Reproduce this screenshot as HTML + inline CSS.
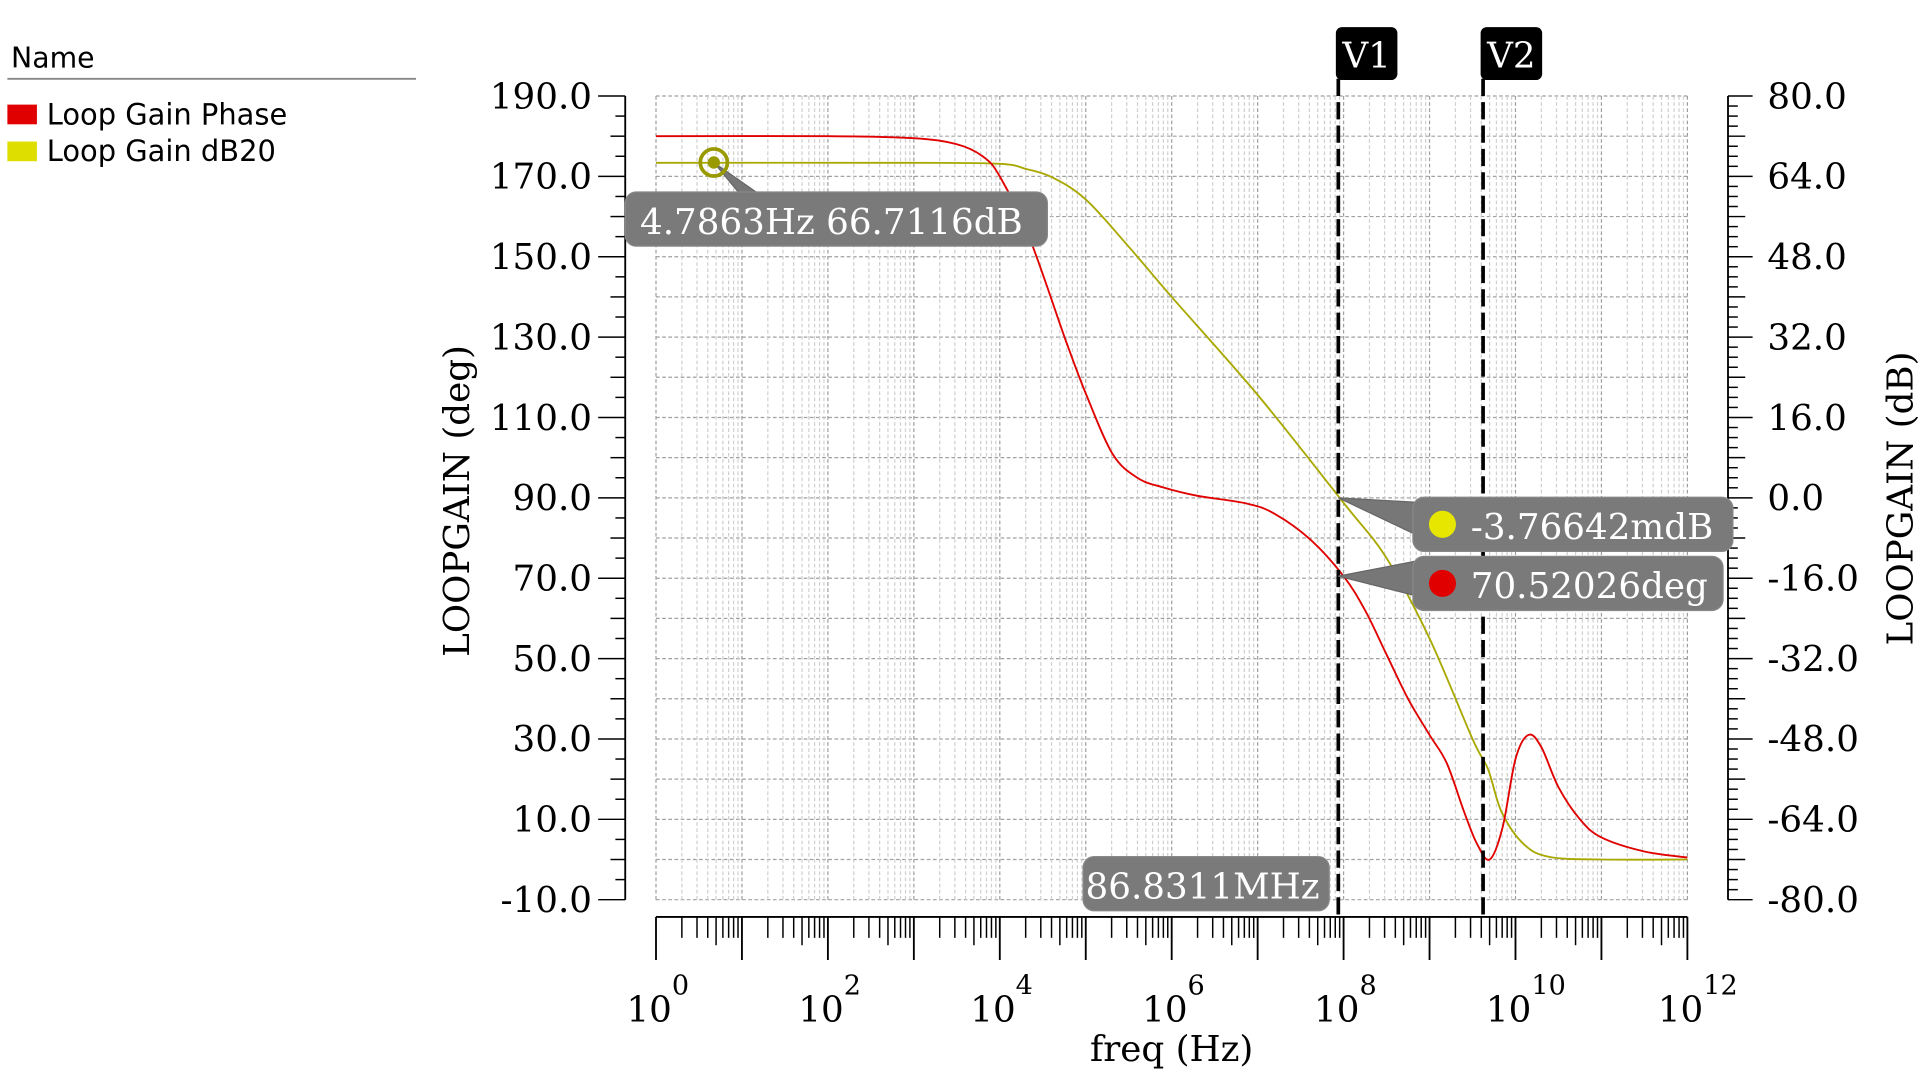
<!DOCTYPE html>
<html><head><meta charset="utf-8"><style>
html,body{margin:0;padding:0;background:#fff;width:1920px;height:1080px;overflow:hidden}
svg{display:block}
.t{font-family:"DejaVu Serif","Liberation Serif",serif;fill:#000}
.s{font-family:"DejaVu Sans","Liberation Sans",sans-serif;fill:#000}
</style></head><body>
<svg id="chart" width="1920" height="1080" viewBox="0 0 1560 877.5" preserveAspectRatio="none" xmlns="http://www.w3.org/2000/svg">
<g>
<text class="s" x="9" y="55" font-size="23">Name</text>
<line x1="6" y1="64" x2="338" y2="64" stroke="#888" stroke-width="1.5"/>
<rect x="6" y="85" width="24" height="16" fill="#e00000"/>
<text class="s" x="38" y="101" font-size="23.5">Loop Gain Phase</text>
<rect x="6" y="115" width="24" height="16" fill="#dede00"/>
<text class="s" x="38" y="131" font-size="23.5">Loop Gain dB20</text>
</g>
<g id="grid"></g>
<g id="axes"></g>
<g id="series"></g>
<g id="marks"></g>
</svg>
<script>
const decades=[0,2,4,6,8,10,12];
const leftTicks=[190,170,150,130,110,90,70,50,30,10,-10];
const rightTicks=[80,64,48,32,16,0,-16,-32,-48,-64,-80];
const phaseLogF=[0,2,3,3.5,3.8,4,4.34,4.77,5,5.31,5.6,5.9,6.3,6.87,7.2,7.62,8,8.25,8.5,8.75,9,9.2,9.4,9.55,9.7,9.85,10,10.15,10.3,10.5,10.75,11,11.5,12];
const phaseVal=[180,180,179.5,178,175,170,155,129,116,101,95,92.6,90.5,88.6,86,79.5,70.5,62,51,40,31,24,12,4,0,8,25,31,28,18,10,5.5,2,0.5];
const dbLogF=[0,3,4,4.3,4.61,5,5.5,6,7,8,8.5,9,9.5,9.68,9.84,10.1,10.4,11,12];
const dbVal=[66.7,66.7,66.5,65.5,63.8,59.4,50,40,20.5,-1,-12,-28,-48,-54,-62.6,-69,-71.5,-72,-72];
const X0=533,X1=1371,Y0=78,Y1=731;
const ns="http://www.w3.org/2000/svg";
function xs(l){return X0+(l-0)/(12-0)*(X1-X0);}
function yl(v){return Y0+(190-v)/200*(Y1-Y0);}
function yr(v){return Y0+(80-v)/160*(Y1-Y0);}
function mk(tag,attrs,parent,txt){const e=document.createElementNS(ns,tag);for(const k in attrs)e.setAttribute(k,attrs[k]);if(txt!==undefined)e.textContent=txt;parent.appendChild(e);return e;}
const grid=document.getElementById('grid'),axes=document.getElementById('axes'),series=document.getElementById('series'),marks=document.getElementById('marks');
for(let v=190;v>=-10;v-=10){mk('line',{x1:X0,x2:X1,y1:yl(v),y2:yl(v),stroke:'#a0a0a0','stroke-width':1,'stroke-dasharray':'3,2'},grid);}
for(let d=0;d<=12;d++){
 mk('line',{x1:xs(d),x2:xs(d),y1:Y0,y2:Y1,stroke:'#a0a0a0','stroke-width':1,'stroke-dasharray':'3,2'},grid);
 if(d<12)for(let m=2;m<=9;m++){const x=xs(d+Math.log10(m));mk('line',{x1:x,x2:x,y1:Y0,y2:Y1,stroke:'#d0d0d0','stroke-width':1,'stroke-dasharray':'3,2'},grid);
  mk('line',{x1:x,x2:x,y1:745,y2:(m==5?768:762),stroke:'#000','stroke-width':1.2},axes);}
 mk('line',{x1:xs(d),x2:xs(d),y1:745,y2:780,stroke:'#000','stroke-width':1.5},axes);
}
mk('line',{x1:X0,x2:X1,y1:745,y2:745,stroke:'#000','stroke-width':1.5},axes);
mk('line',{x1:508,x2:508,y1:Y0,y2:Y1,stroke:'#000','stroke-width':1.5},axes);
for(let v=190;v>=-10;v-=5){const y=yl(v);const major=(v+10)%20==0;mk('line',{x1:major?486:(v%10==0?496:500),x2:508,y1:y,y2:y,stroke:'#000','stroke-width':1.2},axes);}
leftTicks.forEach(v=>{const t=mk('text',{class:'t',x:481,y:yl(v)+10,'font-size':29,'text-anchor':'end'},axes,v.toFixed(1));

});
mk('line',{x1:1404,x2:1404,y1:Y0,y2:Y1,stroke:'#000','stroke-width':1.5},axes);
for(let v=80;v>=-80;v-=2){const y=yr(v);const major=v%16==0;mk('line',{x1:1404,x2:major?1424:(v%8==0?1418:1412),y1:y,y2:y,stroke:'#000','stroke-width':1.2},axes);}
rightTicks.forEach(v=>{const t=mk('text',{class:'t',x:1436,y:yr(v)+10,'font-size':29},axes,v.toFixed(1));

});
decades.forEach(d=>{const t=mk('text',{class:'t',x:xs(d)-24,y:830,'font-size':29},axes);


t.textContent='10';mk('tspan',{dy:-22,'font-size':22},t,String(d));});
let a=mk('text',{class:'t',x:952,y:862,'font-size':29,'text-anchor':'middle'},axes,'freq (Hz)');

a=mk('text',{class:'t',x:0,y:0,'font-size':29,'text-anchor':'middle',transform:'translate(381,407) rotate(-90)'},axes,'LOOPGAIN (deg)');

a=mk('text',{class:'t',x:0,y:0,'font-size':29,'text-anchor':'middle',transform:'translate(1554,405) rotate(-90)'},axes,'LOOPGAIN (dB)');

function path(lx,vals,yf){const p=lx.map((l,i)=>[xs(l),yf(vals[i])]);let d='M'+p[0][0]+','+p[0][1];
 for(let i=0;i<p.length-1;i++){const p0=p[Math.max(0,i-1)],p1=p[i],p2=p[i+1],p3=p[Math.min(p.length-1,i+2)];
 const c1=[p1[0]+(p2[0]-p0[0])/6,p1[1]+(p2[1]-p0[1])/6],c2=[p2[0]-(p3[0]-p1[0])/6,p2[1]-(p3[1]-p1[1])/6];
 d+=' C'+c1.join(',')+' '+c2.join(',')+' '+p2.join(',');}return d;}
let s=mk('path',{d:path(dbLogF,dbVal,yr),fill:'none',stroke:'#a8a800','stroke-width':1.5},series);

s=mk('path',{d:path(phaseLogF,phaseVal,yl),fill:'none',stroke:'#e00000','stroke-width':1.5},series);

const v1=xs(Math.log10(86.8311e6)),v2=1205;
[[v1,'V1'],[v2,'V2']].forEach(([x,l])=>{mk('line',{x1:x,x2:x,y1:64,y2:745,stroke:'#000','stroke-width':3,'stroke-dasharray':'14,5'},marks);
 const r=mk('rect',{x:x-2,y:22,width:50,height:43,rx:5,fill:'#000'},marks);
 
 mk('text',{class:'t',x:x+23,y:55,'font-size':29,'text-anchor':'middle',style:'fill:#fff'},marks,l);});
function callout(bx,by,bw,bh,px,py,ax,name){const g=mk('g',{},marks);
 mk('polygon',{points:`${px},${py} ${ax},${by+4} ${ax+8},${by+bh-10}`,fill:'#777',stroke:'#666'},g);
 mk('rect',{x:bx,y:by,width:bw,height:bh,rx:9,fill:'#7a7a7a',stroke:'#888'},g);return g;}
let g=callout(508,156,343,44,580,132,620,'gain-dc-callout');
mk('text',{class:'t',x:520,y:190,'font-size':29,style:'fill:#fff'},g,'4.7863Hz 66.7116dB');
mk('circle',{cx:580,cy:132,r:11,fill:'none',stroke:'#999900','stroke-width':3},marks);
mk('circle',{cx:580,cy:132,r:5,fill:'#999900'},marks);
g=callout(1148,404,260,44,v1,yr(0),1150,'gain-v1-callout');
mk('circle',{cx:1172,cy:426,r:11,fill:'#e6e600'},g);
mk('text',{class:'t',x:1195,y:438,'font-size':29,style:'fill:#fff'},g,'-3.76642mdB');
g=callout(1148,452,252,44,v1,yl(70.52),1150,'phase-v1-callout');
mk('circle',{cx:1172,cy:474,r:11,fill:'#e00000'},g);
mk('text',{class:'t',x:1195,y:486,'font-size':29,style:'fill:#fff'},g,'70.52026deg');
g=mk('g',{},marks);
mk('rect',{x:880,y:696,width:200,height:44,rx:9,fill:'#7a7a7a',stroke:'#888'},g);
mk('text',{class:'t',x:882,y:730,'font-size':29,style:'fill:#fff'},g,'86.8311MHz');
</script>
</body></html>
